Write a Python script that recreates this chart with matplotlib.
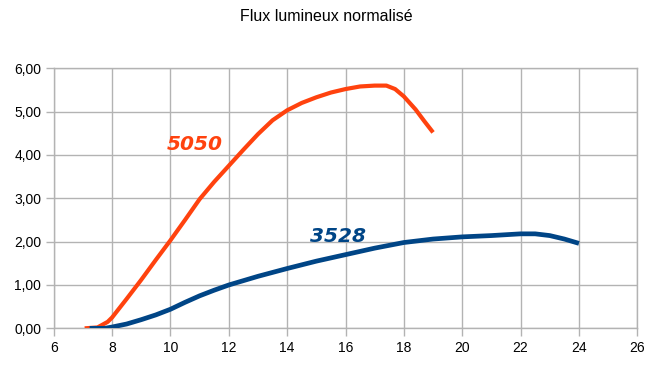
import matplotlib
matplotlib.use("Agg")
import matplotlib.pyplot as plt
from matplotlib.ticker import FuncFormatter

# values
x_5050 = [7.06, 7.5, 7.85, 8.0, 8.5, 9.0, 9.5, 10.0, 10.5, 11.0, 11.5, 12.0, 12.5, 13.0, 13.5,
          14.0, 14.5, 15.0, 15.5, 16.0, 16.5, 17.0, 17.4, 17.7, 18.0, 18.4, 18.7, 19.0]
y_5050 = [0.0, 0.02, 0.15, 0.25, 0.68, 1.12, 1.58, 2.03, 2.5, 2.98, 3.38, 3.75, 4.12, 4.48, 4.8,
          5.03, 5.2, 5.33, 5.44, 5.52, 5.58, 5.6, 5.6, 5.52, 5.35, 5.05, 4.78, 4.52]

x_3528 = [7.23, 7.75, 8.0, 8.5, 9.0, 9.5, 10.0, 10.5, 11.0, 11.5, 12.0, 13.0, 14.0, 15.0, 16.0,
          17.0, 18.0, 19.0, 20.0, 21.0, 21.5, 22.0, 22.5, 23.0, 23.5, 24.0]
y_3528 = [0.0, 0.0, 0.03, 0.1, 0.2, 0.31, 0.44, 0.6, 0.75, 0.88, 1.0, 1.2, 1.38, 1.55, 1.7,
          1.85, 1.98, 2.06, 2.11, 2.14, 2.16, 2.18, 2.18, 2.14, 2.06, 1.96]

title = "Flux lumineux normalisé"
x_ticks = list(range(6, 27, 2))
y_ticks = [0, 1, 2, 3, 4, 5, 6]

orange = "#ff420e"
blue = "#004586"
grid = "#b3b3b3"

fig = plt.figure(figsize=(6.55, 3.71), dpi=100)
ax = fig.add_axes([0.082, 0.115, 0.891, 0.701])

ax.plot(x_5050, y_5050, color=orange, lw=3.0, solid_capstyle="butt",
        solid_joinstyle="round", zorder=3)
ax.plot(x_3528, y_3528, color=blue, lw=3.4, solid_capstyle="butt",
        solid_joinstyle="round", zorder=4)

ax.text(10.85, 4.25, "5050", color=orange, fontsize=14.5, fontweight="bold",
        fontstyle="italic", family="DejaVu Sans", ha="center", va="center")
ax.text(15.75, 2.11, "3528", color=blue, fontsize=14.5, fontweight="bold",
        fontstyle="italic", family="DejaVu Sans", ha="center", va="center")

ax.set_xlim(6, 26)
ax.set_ylim(0, 6)
ax.set_xticks(x_ticks)
ax.set_yticks(y_ticks)
ax.yaxis.set_major_formatter(FuncFormatter(lambda v, p: f"{v:.2f}".replace(".", ",")))
ax.grid(True, color=grid, lw=1.0)
ax.set_axisbelow(True)
for s in ax.spines.values():
    s.set_color(grid)
    s.set_linewidth(1.0)
ax.tick_params(direction="out", length=6, width=1.0, color=grid,
               labelsize=10, pad=3)
for lab in ax.get_xticklabels() + ax.get_yticklabels():
    lab.set_family("Liberation Sans")

fig.text(0.498, 0.955, title, ha="center", va="center", fontsize=11.5,
         family="Liberation Sans")

fig.savefig("out.png", dpi=100)
